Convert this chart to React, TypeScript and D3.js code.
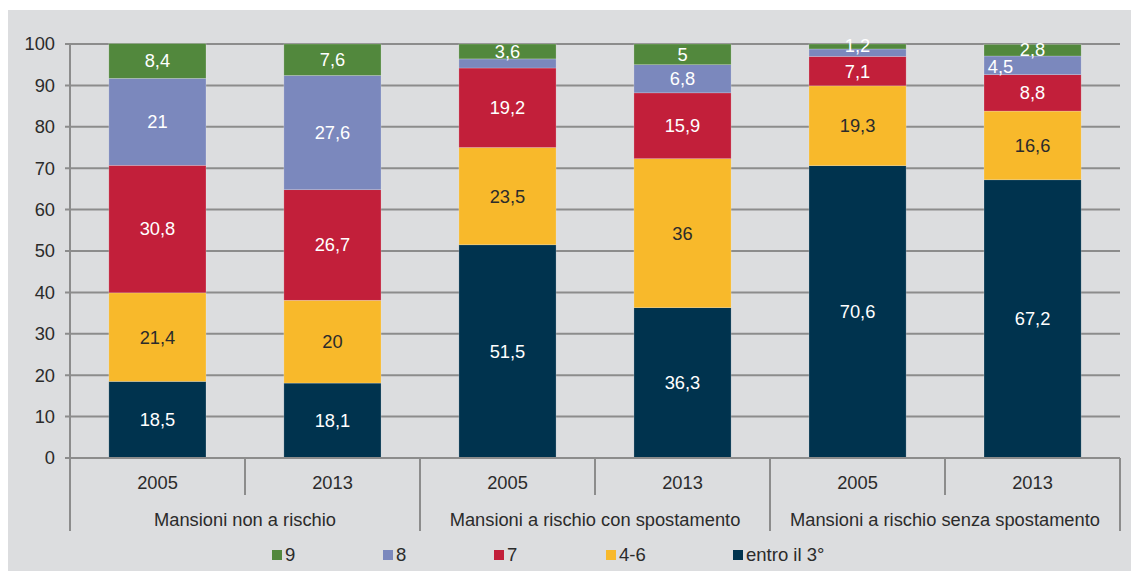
import React from 'react';
import * as d3 from 'd3';

// categories (two-level x axis)
const groups = ['Mansioni non a rischio', 'Mansioni a rischio con spostamento', 'Mansioni a rischio senza spostamento'];
const years = ['2005', '2013'];

// series, bottom to top
const seriesKeys = ['entro il 3°', '4-6', '7', '8', '9'];
const seriesColors = ['#00334e', '#f8b92b', '#c21f3a', '#7b88bd', '#52883d'];

// values per bar, in order: group x year
const entro3 = [18.5, 18.1, 51.5, 36.3, 70.6, 67.2];
const v4to6 = [21.4, 20, 23.5, 36, 19.3, 16.6];
const v7 = [30.8, 26.7, 19.2, 15.9, 7.1, 8.8];
const v8 = [21, 27.6, 2.2, 6.8, 1.8, 4.5];
const v9 = [8.4, 7.6, 3.6, 5, 1.2, 2.8];
// which segments get a label (unlabelled blue slivers)
const showLabel8 = [true, true, false, true, false, true];

const legendOrder = ['9', '8', '7', '4-6', 'entro il 3°'];
const yTicks = [0, 10, 20, 30, 40, 50, 60, 70, 80, 90, 100];

const font = '"Liberation Sans", Arial, sans-serif';
const fs = 18.3;

const App = () => {
  const width = 1131;
  const height = 571;
  const margin = { left: 70, right: 11, top: 44, bottom: 113 };
  const plotBottom = height - margin.bottom;

  const bars = groups.flatMap((g, gi) => years.map((y, yi) => ({ id: `${gi}-${y}`, group: g, year: y, idx: gi * 2 + yi })));
  const rows = bars.map((b, i) => ({
    id: b.id,
    'entro il 3°': entro3[i],
    '4-6': v4to6[i],
    '7': v7[i],
    '8': v8[i],
    '9': v9[i],
  }));

  const xScale = d3.scaleBand()
    .domain(bars.map(b => b.id))
    .range([margin.left, width - margin.right])
    .paddingInner(0.445)
    .paddingOuter(0.222);
  const band = (width - margin.right - margin.left) / bars.length;

  const yScale = d3.scaleLinear().domain([0, 100]).range([plotBottom, margin.top]);

  const stacked = d3.stack().keys(seriesKeys)(rows as any);
  const color = d3.scaleOrdinal<string, string>().domain(seriesKeys).range(seriesColors);

  const gridColor = '#8c8c8c';
  const yearLineBottom = 495;
  const groupLineBottom = 531;

  // small label nudges where segments are thin (matches the source layout)
  const nudge = (key: string, i: number) => {
    if (key === '8' && i === 5) return { dx: -32, dy: 1 };
    if (key === '9' && i === 5) return { dx: 0, dy: -1 };
    if (key === '9' && i === 4) return { dx: 0, dy: -1 };
    return { dx: 0, dy: 0 };
  };

  return (
    <svg width={width} height={height} style={{ position: 'absolute', left: 0, top: 0 }} fontFamily={font}>
      <rect x={0} y={0} width={width} height={height} fill="#ffffff" />
      <rect x={8} y={10} width={width - 8} height={height - 10} fill="#dcdddf" />

      {/* gridlines and y ticks */}
      {yTicks.map(t => (
        <g key={t}>
          <line x1={margin.left - 5} x2={width - margin.right} y1={yScale(t)} y2={yScale(t)} stroke={gridColor} strokeWidth={2} />
          <text x={margin.left - 15} y={yScale(t)} dy="0.35em" textAnchor="end" fontSize={fs} fill="#2b2b2b">{t}</text>
        </g>
      ))}

      {/* bars */}
      {stacked.map((s) => (
        <g key={s.key} fill={color(s.key)}>
          {s.map((d, i) => {
            const y0 = yScale(d[0]);
            const y1 = yScale(d[1]);
            const val = d[1] - d[0];
            const show = s.key !== '8' || showLabel8[i];
            const n = nudge(s.key, i);
            return (
              <g key={i}>
                <rect x={xScale(bars[i].id)} y={y1} width={xScale.bandwidth()} height={y0 - y1} stroke="rgba(255,255,255,0.35)" strokeWidth={0.6} />
                {show && (
                  <text
                    x={(xScale(bars[i].id) ?? 0) + xScale.bandwidth() / 2 + n.dx}
                    y={(y0 + y1) / 2 + n.dy}
                    dy="0.35em"
                    textAnchor="middle"
                    fontSize={fs}
                    fill={s.key === '4-6' ? '#2b2b2b' : '#ffffff'}
                  >
                    {String(Math.round(val * 10) / 10).replace('.', ',')}
                  </text>
                )}
              </g>
            );
          })}
        </g>
      ))}

      {/* category axis */}
      <line x1={margin.left} x2={width - margin.right} y1={plotBottom} y2={plotBottom} stroke={gridColor} strokeWidth={2} />
      <line x1={margin.left} x2={margin.left} y1={margin.top} y2={groupLineBottom} stroke={gridColor} strokeWidth={2} />
      {bars.map((b, i) => {
        const right = margin.left + band * (i + 1);
        const isGroupEnd = i % 2 === 1;
        return (
          <g key={b.id}>
            <line x1={right} x2={right} y1={plotBottom} y2={isGroupEnd ? groupLineBottom : yearLineBottom} stroke={gridColor} strokeWidth={2} />
            <text x={margin.left + band * (i + 0.5)} y={489} textAnchor="middle" fontSize={fs} fill="#2b2b2b">{b.year}</text>
          </g>
        );
      })}
      {groups.map((g, gi) => (
        <text key={g} x={margin.left + band * (gi * 2 + 1)} y={526} textAnchor="middle" fontSize={fs} fill="#2b2b2b">{g}</text>
      ))}

      {/* legend */}
      {legendOrder.map((k, i) => {
        const xs = [272, 383, 494, 606, 733];
        return (
          <g key={k} transform={`translate(${xs[i]}, 550)`}>
            <rect x={0} y={0} width={10} height={10} fill={color(k)} />
            <text x={13} y={11} fontSize={18.5} fill="#2b2b2b">{k}</text>
          </g>
        );
      })}
    </svg>
  );
};

export default App;
